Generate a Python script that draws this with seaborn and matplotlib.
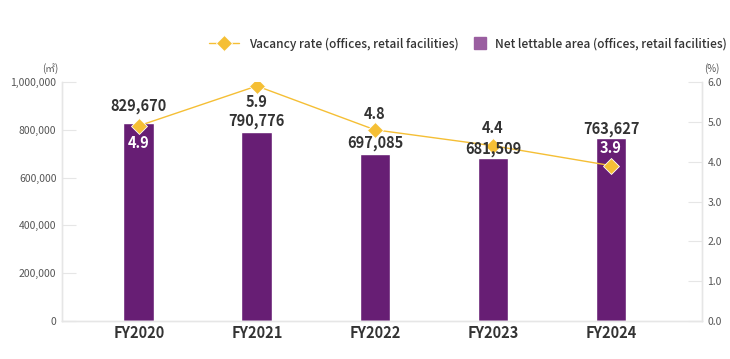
import numpy as np
import pandas as pd
import matplotlib.pyplot as plt
import seaborn as sns
from matplotlib.lines import Line2D

years = ["FY2020", "FY2021", "FY2022", "FY2023", "FY2024"]
area = [829670, 790776, 697085, 681509, 763627]
vacancy = [4.9, 5.9, 4.8, 4.4, 3.9]

bar_color = "#671e74"
line_color = "#f5bf35"
text_color = "#333333"
tick_color = "#555555"
grid_color = "#e6e6e6"

sns.set_style("white")
plt.rcParams["font.family"] = ["Noto Sans CJK JP", "DejaVu Sans"]

df = pd.DataFrame({"year": years, "area": area, "vacancy": vacancy})

fig = plt.figure(figsize=(7.3, 3.59), dpi=100)
ax = fig.add_axes([62 / 730, 1 - 321 / 359, (702 - 62) / 730, (321 - 82) / 359])
ax2 = ax.twinx()

sns.barplot(data=df, x="year", y="area", color=bar_color, width=0.26,
            saturation=1, ax=ax, zorder=2)
x = np.arange(len(years))
ax2.plot(x, vacancy, color=line_color, lw=1, marker="D", markersize=8,
         markeredgecolor="white", markeredgewidth=0.6, zorder=3)

ax.set_xlim(-0.65, 4.77)
ax.set_ylim(0, 1000000)
ax2.set_ylim(0, 6)
ax.set_yticks(np.arange(0, 1000001, 200000))
ax.set_yticklabels([f"{v:,}" for v in range(0, 1000001, 200000)])
ax2.set_yticks(np.arange(0, 6.01, 1))
ax2.set_yticklabels([f"{v:.1f}" for v in np.arange(0, 6.01, 1)])

ax.set_xlabel("")
ax.set_ylabel("")
ax2.set_ylabel("")

for a in (ax, ax2):
    for s in a.spines.values():
        s.set_color(grid_color)
        s.set_linewidth(1)
    a.spines["top"].set_visible(False)

ax.tick_params(axis="y", direction="in", length=10, color=grid_color,
               labelsize=7.5, labelcolor=tick_color, pad=4)
ax2.tick_params(axis="y", direction="in", length=10, color=grid_color,
                labelsize=7.5, labelcolor=tick_color, pad=4)
ax.tick_params(axis="x", length=0, labelsize=10.5, labelcolor=text_color, pad=3)
for lbl in ax.get_xticklabels():
    lbl.set_fontweight("bold")

ax.set_zorder(ax2.get_zorder() - 1)
ax.patch.set_visible(False)

# bar value labels (pixel offsets above bar top)
bar_dy = [17, 11, 11, 9, 9]
for i, (v, dy) in enumerate(zip(area, bar_dy)):
    ax2.annotate(f"{v:,}", (i, v / 1000000 * 6), xytext=(0, dy),
                 textcoords="offset pixels", ha="center", va="center",
                 fontsize=10.5, fontweight="bold", color=text_color)

# vacancy labels
rate_dy = [-17, -16, 16, 18, 18]
rate_col = ["white", text_color, text_color, text_color, "white"]
for i, (v, dy, c) in enumerate(zip(vacancy, rate_dy, rate_col)):
    ax2.annotate(f"{v:.1f}", (i, v), xytext=(0, dy), textcoords="offset pixels",
                 ha="center", va="center",
                 fontsize=10.5, fontweight="bold", color=c)

fig.text(50 / 730, 1 - 69 / 359, "(㎡)", ha="center", va="center",
         fontsize=7, color=tick_color)
fig.text(712 / 730, 1 - 69 / 359, "(%)", ha="center", va="center",
         fontsize=7, color=tick_color)

# legend
fig.legend(
    [Line2D([0], [0], color=line_color, lw=1, marker="D", markersize=8,
            markeredgecolor="white", markeredgewidth=0.6)],
    ["Vacancy rate (offices, retail facilities)"],
    loc="center left", bbox_to_anchor=(198 / 730, 1 - 44 / 359),
    frameon=False, labelcolor=text_color,
    prop={"weight": "medium", "size": 8.6},
    handlelength=2.5, handletextpad=0.9)
fig.legend(
    [Line2D([0], [0], color="#9a5ea0", lw=0, marker="s", markersize=8.6)],
    ["Net lettable area (offices, retail facilities)"],
    loc="center left", bbox_to_anchor=(463 / 730, 1 - 44 / 359),
    frameon=False, labelcolor=text_color,
    prop={"weight": "medium", "size": 8.6},
    handlelength=1.0, handletextpad=0.75)

plt.savefig("out.png", dpi=100)
